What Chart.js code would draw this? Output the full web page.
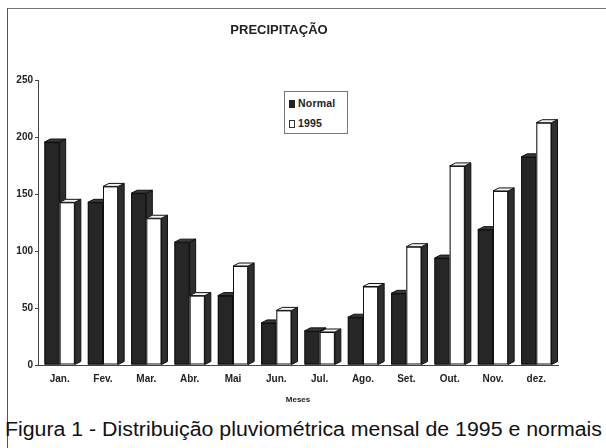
<!DOCTYPE html>
<html>
<head>
<meta charset="utf-8">
<script src="https://cdn.jsdelivr.net/npm/chart.js@4.4.0/dist/chart.umd.min.js"></script>
<style>
  body { margin: 0; background: #fff; }
  #wrap { position: relative; width: 606px; height: 448px; overflow: hidden; font-family: "Liberation Sans", Arial, sans-serif; }
  #frame { position: absolute; left: 7px; top: 8px; width: 610px; height: 460px; border-left: 1px solid #555; border-top: 1px solid #777; }
  #chart { position: absolute; left: 0; top: 0; }
  #legend { position: absolute; left: 284px; top: 91px; width: 62px; height: 41px; border: 1px solid #777; background: #fff;
            font-weight: bold; font-size: 10.5px; color: #222; letter-spacing: 0.2px; }
  #legend div { position: absolute; left: 4px; }
  #legend span.sq { display: inline-block; width: 6px; height: 8px; margin-right: 3px; vertical-align: -1px; box-sizing: border-box; }
  #caption { position: absolute; left: 5px; top: 418px; font-size: 20px; color: #111; white-space: nowrap; transform-origin: 0 0; }
</style>
</head>
<body>
<div id="wrap">
  <div id="frame"></div>
  <canvas id="chart" width="606" height="412"></canvas>
  <div id="legend">
    <div style="top:5px"><span class="sq" style="background:#222"></span>Normal</div>
    <div style="top:25px"><span class="sq" style="background:#fff;border:1px solid #333"></span>1995</div>
  </div>
  <div id="caption">Figura 1 - Distribuição pluviométrica mensal de 1995 e normais</div>
</div>
<script>
// Dados
const meses = ['Jan.', 'Fev.', 'Mar.', 'Abr.', 'Mai', 'Jun.', 'Jul.', 'Ago.', 'Set.', 'Out.', 'Nov.', 'dez.'];
const normal = [196, 143, 151, 108, 61, 37, 30, 42, 63, 94, 119, 183];
const ano1995 = [143, 157, 129, 61, 87, 48, 29, 69, 104, 175, 153, 213];
const yTicks = [0, 50, 100, 150, 200, 250];

// efeito 3D: redesenha cada barra (frente, lado, topo) na ordem das séries
const depth = { dx: 6, dy: 3 };
const bar3d = {
  id: 'bar3d',
  afterDatasetsDraw(chart) {
    const ctx = chart.ctx;
    chart.data.datasets.forEach((ds, i) => {
      const meta = chart.getDatasetMeta(i);
      meta.data.forEach(bar => {
        const p = bar.getProps(['x', 'y', 'base', 'width'], true);
        const l = p.x - p.width / 2, r = p.x + p.width / 2;
        ctx.save();
        ctx.lineWidth = 1;
        ctx.strokeStyle = '#111';
        // frente
        ctx.fillStyle = ds.backgroundColor;
        ctx.fillRect(l, p.y, p.width, p.base - p.y);
        ctx.strokeRect(l + 0.5, p.y + 0.5, p.width - 1, p.base - p.y - 1);
        // lado
        ctx.beginPath();
        ctx.moveTo(r, p.y);
        ctx.lineTo(r + depth.dx, p.y - depth.dy);
        ctx.lineTo(r + depth.dx, p.base - depth.dy);
        ctx.lineTo(r, p.base);
        ctx.closePath();
        ctx.fillStyle = '#2e2e2e';
        ctx.fill();
        ctx.stroke();
        // topo
        ctx.beginPath();
        ctx.moveTo(l, p.y);
        ctx.lineTo(l + depth.dx, p.y - depth.dy);
        ctx.lineTo(r + depth.dx, p.y - depth.dy);
        ctx.lineTo(r, p.y);
        ctx.closePath();
        ctx.fillStyle = ds.topColor;
        ctx.fill();
        ctx.stroke();
        ctx.restore();
      });
    });
  }
};

const ctx = document.getElementById('chart').getContext('2d');
const chart = new Chart(ctx, {
  type: 'bar',
  data: {
    labels: meses,
    datasets: [{
      label: 'Normal',
      data: normal,
      backgroundColor: '#262626',
      borderColor: '#111',
      borderWidth: 1,
      topColor: '#3a3a3a',
      categoryPercentage: 0.7,
      barPercentage: 1
    }, {
      label: '1995',
      data: ano1995,
      backgroundColor: '#ffffff',
      borderColor: '#111',
      borderWidth: 1,
      topColor: '#f4f4f4',
      categoryPercentage: 0.7,
      barPercentage: 1
    }]
  },
  options: {
    responsive: false,
    animation: false,
    layout: { padding: { left: 0, right: 48, top: 0, bottom: 3 } },
    plugins: {
      legend: { display: false },
      tooltip: { enabled: false },
      title: {
        display: true,
        text: 'PRECIPITAÇÃO',
        color: '#222',
        font: { family: 'Liberation Sans', size: 13, weight: 'bold' },
        padding: { top: 23, bottom: 42 }
      }
    },
    scales: {
      x: {
        grid: { display: false, drawTicks: false },
        border: { display: true, color: '#444' },
        ticks: { color: '#222', padding: 8, font: { family: 'Liberation Sans', size: 10, weight: 'bold' } },
        title: { display: true, text: 'Meses', color: '#222', padding: { top: 11 }, font: { family: 'Liberation Sans', size: 8, weight: 'bold' } },
        afterFit: s => { s.height = 44; }
      },
      y: {
        min: 0,
        max: 250,
        afterBuildTicks: s => { s.ticks = yTicks.map(v => ({ value: v })); },
        grid: { drawOnChartArea: false, tickLength: 3, color: '#444' },
        border: { display: true, color: '#444' },
        ticks: { color: '#222', padding: 2, font: { family: 'Liberation Sans', size: 10, weight: 'bold' } },
        afterFit: s => { s.width = 38; }
      }
    }
  },
  plugins: [bar3d]
});

// ajustar largura da legenda de baixo
const cap = document.getElementById('caption');
const w = cap.getBoundingClientRect().width;
cap.style.transform = 'scaleX(' + (597 / w) + ')';
</script>
</body>
</html>
